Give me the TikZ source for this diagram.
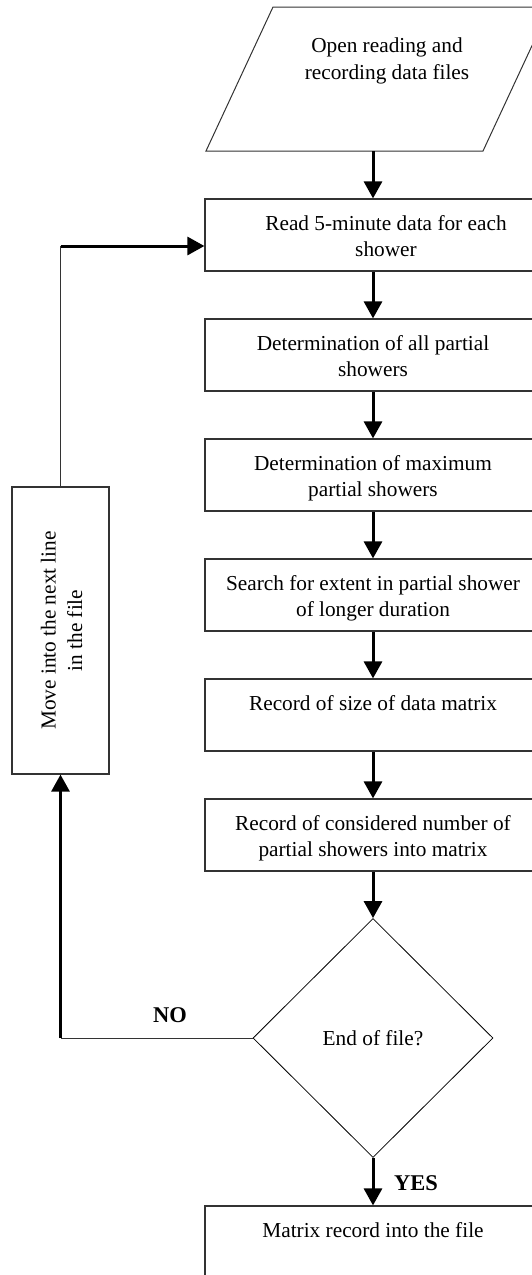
\documentclass[tikz,border=0pt]{standalone}
\usepackage{fontspec}
\setmainfont{Liberation Serif}
\usetikzlibrary{arrows.meta,shapes.geometric}
\newcommand{\topstrut}{\rule{0pt}{24.5pt}}
\newcommand{\botstrut}{\rule[-8pt]{0pt}{8pt}}
\begin{document}
\begin{tikzpicture}[x=1pt,y=-1pt,
  txt/.style={font=\fontsize{21.3}{26.5}\selectfont, align=center},
  box/.style={txt, draw=black!80, line width=1.2pt, minimum width=336pt, minimum height=72pt, inner sep=0pt},
  thinline/.style={draw=black!80, line width=1.2pt},
  arr/.style={line width=3pt, -{Triangle[width=18pt,length=17pt]}},
  lab/.style={font=\fontsize{22.5}{27}\selectfont\bfseries}]
\useasboundingbox (0,0) rectangle (532,1275);
\clip (0,0) rectangle (532,1275);
% input parallelogram
\draw[thinline, line width=1pt] (206,151) -- (273,7) -- (550,7) -- (483,151) -- cycle;
\node[txt] (open) at (387,61) {Open reading and\\recording data files};
\coordinate (pb) at (373,151);
% process boxes
\node[box, minimum width=362pt] (b1) at (386,235) {\topstrut Read 5-minute data for each\\shower\botstrut};
\node[box] (b2) at (373,355) {\topstrut Determination of all partial\\showers\botstrut};
\node[box] (b3) at (373,475) {\topstrut Determination of maximum\\partial showers\botstrut};
\node[box] (b4) at (373,595) {\topstrut Search for extent in partial shower\\of longer duration\botstrut};
\node[box] (b5) at (373,715) {\topstrut Record of size of data matrix\\\botstrut};
\node[box] (b6) at (373,835) {\topstrut Record of considered number of\\partial showers into matrix\botstrut};
\node[diamond, draw, line width=0.8pt, minimum width=240pt, minimum height=239pt, inner sep=0pt, txt] (dec) at (373,1038) {End of file?};
\node[box] (b8) at (373,1242) {\topstrut Matrix record into the file\\\botstrut};
\node[box, rotate=90, minimum width=287pt, minimum height=97pt] (move) at (60.5,630.5) {\topstrut Move into the next line\\in the file\botstrut};
% labels
\node[lab] (no) at (170,1015) {NO};
\node[lab] (yes) at (416,1183) {YES};
% connectors
\draw[arr] (pb) -- (pb |- b1.north);
\draw[arr] (b2.north |- b1.south) -- (b2.north);
\draw[arr] (b2.south) -- (b3.north);
\draw[arr] (b3.south) -- (b4.north);
\draw[arr] (b4.south) -- (b5.north);
\draw[arr] (b5.south) -- (b6.north);
\draw[arr] (b6.south) -- (dec.north);
\draw[arr] (dec.south) -- (b8.north);
\coordinate (ytop) at (0,246);
\coordinate (c1) at (move.east |- ytop);
\coordinate (c2) at (move.west |- dec.west);
\draw[thinline] (move.east) -- (c1);
\draw[arr] (c1) -- (c1 -| b1.west);
\draw[thinline, line width=1pt] (dec.west) -- (c2);
\draw[arr] (c2) -- (move.west);
\end{tikzpicture}
\end{document}
